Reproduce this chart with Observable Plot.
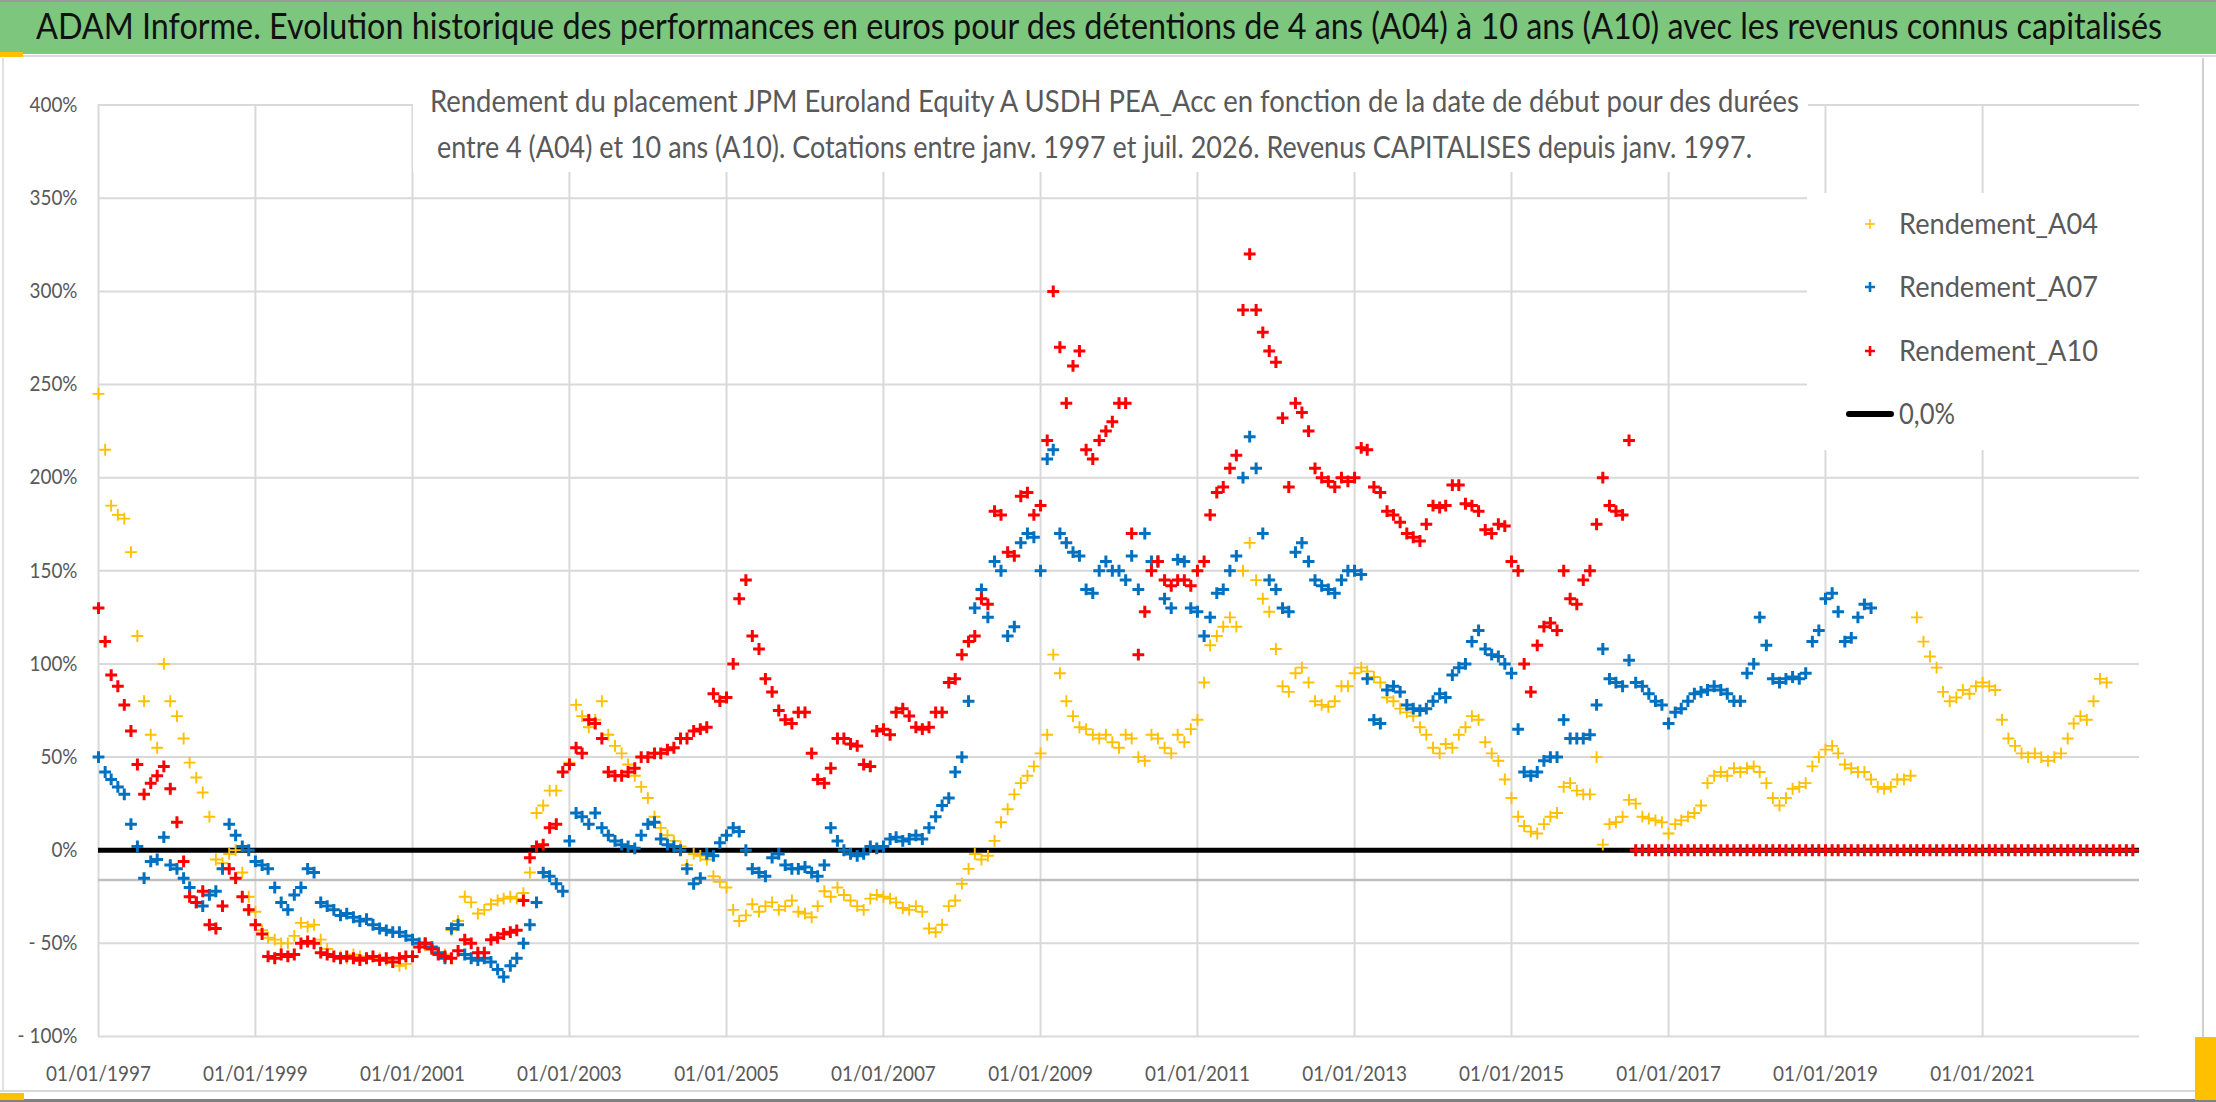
<!DOCTYPE html>
<html><head><meta charset="utf-8">
<script src="https://cdn.jsdelivr.net/npm/d3@7"></script>
<script src="https://cdn.jsdelivr.net/npm/@observablehq/plot@0.6"></script>
<style>
html,body{margin:0;padding:0;background:#fff;}
#page{position:relative;width:2216px;height:1102px;overflow:hidden;background:#fff;font-family:Lato,"Open Sans",sans-serif;}
.abs{position:absolute;}
.txt{position:absolute;white-space:nowrap;transform-origin:0 0;}
</style></head><body><div id="page"></div>
<script>
// ---------- DATA (monthly values, %, first month = Jan 1997) ----------
const startYear = 1997;
const endYear = 2023;
const a04 = [
 245,215,185,180,178,160,115,80,62,55,100,80,
 72,60,47,39,31,18,-5,-7,-2,0,-12,-25,
 -33,-43,-47,-48,-50,-50,-46,-39,-41,-40,-48,-53,
 -57,-57,-58,-56,-57,-58,-57,-58,-59,-60,-62,-61,
 -57,-52,-51,-52,-55,-56,-43,-38,-25,-28,-34,-32,
 -29,-27,-26,-25,-26,-23,-12,20,24,32,32,42,
 47,78,72,66,70,80,62,56,52,46,40,34,
 28,18,12,8,5,2,-8,-2,-3,-5,-14,-17,
 -20,-32,-38,-35,-29,-33,-30,-28,-32,-30,-27,-33,
 -34,-36,-30,-22,-25,-20,-24,-27,-30,-32,-26,-24,
 -25,-26,-28,-31,-32,-30,-33,-42,-44,-40,-30,-27,
 -18,-10,-2,-5,-3,5,15,22,30,36,40,45,
 52,62,105,95,80,72,66,65,62,60,62,58,
 55,62,60,50,48,62,60,55,52,62,58,65,
 70,90,110,115,120,125,120,150,165,145,135,128,
 108,88,85,95,98,90,80,78,77,80,88,88,
 95,98,96,93,90,82,80,76,74,72,66,62,
 55,52,57,55,62,66,72,70,58,52,48,38,
 28,18,13,10,9,14,18,20,34,36,32,30,
 30,50,3,14,15,18,27,25,18,17,16,15,
 9,14,16,18,20,24,36,40,42,40,44,42,
 44,45,42,36,28,24,28,33,34,36,45,50,
 54,56,52,46,44,42,42,38,34,33,34,38,
 38,40,125,112,104,98,85,80,82,86,84,88,
 90,88,86,70,60,56,52,50,52,50,48,50,
 52,60,68,72,70,80,92,90
];
const a07 = [
 50,42,38,34,30,14,2,-15,-6,-5,7,-8,
 -10,-15,-20,-28,-30,-24,-22,-10,14,8,2,0,
 -6,-8,-10,-20,-28,-32,-24,-20,-10,-12,-28,-30,
 -32,-35,-34,-36,-38,-37,-40,-42,-43,-44,-44,-46,
 -48,-50,-50,-52,-55,-58,-42,-40,-56,-58,-59,-58,
 -60,-64,-68,-62,-58,-50,-40,-28,-12,-14,-18,-22,
 5,20,18,14,20,12,8,5,3,2,1,8,
 14,15,6,3,2,0,-10,-18,-15,-2,-3,4,
 8,12,10,0,-10,-12,-14,-4,-2,-8,-10,-10,
 -9,-12,-14,-8,12,5,0,-2,-3,-2,2,1,
 2,6,7,5,6,8,6,12,18,24,28,42,
 50,80,130,140,125,155,150,115,120,165,170,168,
 150,210,215,170,165,160,158,140,138,150,155,150,
 150,145,158,140,170,155,155,135,130,156,155,130,
 128,115,125,138,140,150,158,200,222,205,170,145,
 140,130,128,160,165,155,145,142,140,138,145,150,
 150,148,92,70,68,86,88,85,78,76,75,76,
 80,84,82,94,98,100,112,118,108,105,104,100,
 95,65,42,40,42,48,50,50,70,60,60,60,
 62,78,108,92,90,88,102,90,88,84,80,78,
 68,74,76,80,84,85,86,88,86,84,80,80,
 95,100,125,110,92,90,92,93,92,95,112,118,
 135,138,128,112,114,125,132,130
];
const a10 = [
 130,112,94,88,78,64,46,30,36,40,45,33,
 15,-6,-25,-28,-22,-40,-42,-30,-10,-15,-25,-32,
 -40,-45,-57,-58,-56,-57,-56,-50,-49,-50,-55,-56,
 -57,-58,-57,-58,-59,-58,-57,-59,-58,-60,-58,-57,
 -57,-52,-50,-53,-56,-57,-58,-54,-48,-50,-55,-55,
 -48,-47,-45,-44,-43,-27,-4,2,3,12,14,42,
 46,55,52,70,68,60,42,40,40,42,44,50,
 50,52,52,54,55,60,60,64,65,66,84,80,
 82,100,135,145,115,108,92,85,75,70,68,74,
 74,52,38,36,44,60,60,57,56,46,45,64,
 65,62,74,76,72,66,65,66,74,74,90,92,
 105,112,115,135,132,182,180,160,158,190,192,180,
 185,220,300,270,240,260,268,215,210,220,225,230,
 240,240,170,105,128,150,155,145,142,145,145,142,
 150,155,180,192,195,205,212,290,320,290,278,268,
 262,232,195,240,235,225,205,200,198,195,200,198,
 200,216,215,195,192,182,180,176,170,168,166,175,
 185,184,185,196,196,186,185,182,172,170,175,174,
 155,150,100,85,110,120,122,118,150,135,132,145,
 150,175,200,185,182,180,220,
 0,0,0,0,0,
 0,0,0,0,0,0,0,0,0,0,0,0,
 0,0,0,0,0,0,0,0,0,0,0,0,
 0,0,0,0,0,0,0,0,0,0,0,0,
 0,0,0,0,0,0,0,0,0,0,0,0,
 0,0,0,0,0,0,0,0,0,0,0,0,
 0,0,0,0,0,0,0,0,0,0,0,0
];
const zeroLine = [0];
const axisCross = [-16];
const xTickYears = [1997,1999,2001,2003,2005,2007,2009,2011,2013,2015,2017,2019,2021];
const yTicks = [-100,-50,0,50,100,150,200,250,300,350,400];
const seriesNames = ["Rendement_A04","Rendement_A07","Rendement_A10"];
const seriesColors = ["#FFC000","#0070C0","#FF0000"];
const zeroName = "0,0%";
const titleText = "ADAM Informe. Evolution historique des performances en euros pour des détentions de 4 ans (A04) à 10 ans (A10) avec les revenus connus capitalisés";
const subtitle1 = "Rendement du placement JPM Euroland Equity A USDH PEA_Acc en fonction de la date de début pour des durées";
const subtitle2 = "entre 4 (A04) et 10 ans (A10). Cotations entre janv. 1997 et juil. 2026. Revenus CAPITALISES depuis janv. 1997.";

// ---------- build rows ----------
const toRows = arr => arr.map((v, i) => ({date: new Date(Date.UTC(startYear, i, 1)), value: v}));
const rows = [a04, a07, a10].map(toRows);
const xTickDates = xTickYears.map(y => new Date(Date.UTC(y, 0, 1)));
const fmtPct = v => v < 0 ? "- " + Math.abs(v) + "%" : v + "%";

const page = document.getElementById("page");

const svg = Plot.plot({
  width: 2216, height: 1102,
  marginLeft: 98, marginRight: 77, marginTop: 104.6, marginBottom: 66,
  style: {fontFamily: "Lato, 'Open Sans', sans-serif", fontSize: "21px", color: "#595959", background: "transparent", overflow: "visible"},
  x: {type: "utc", domain: [new Date(Date.UTC(startYear,0,1)), new Date(Date.UTC(endYear,0,1))],
      ticks: xTickDates, tickFormat: d => "01/01/" + d.getUTCFullYear(), tickSize: 0, tickPadding: 30, label: null},
  y: {domain: [-100, 400], ticks: yTicks, tickFormat: fmtPct, tickSize: 0, tickPadding: 21, label: null},
  marks: [
    Plot.ruleY(yTicks, {stroke: "#d9d9d9", strokeWidth: 2}),
    Plot.ruleX(xTickDates, {stroke: "#d9d9d9", strokeWidth: 2}),
    Plot.ruleY(axisCross, {stroke: "#bfbfbf", strokeWidth: 2.5}),
    Plot.ruleY(zeroLine, {stroke: "#000", strokeWidth: 5}),
    Plot.dot(rows[0], {x: "date", y: "value", symbol: "plus", r: 3.9, fill: "none", stroke: seriesColors[0], strokeWidth: 1.9}),
    Plot.dot(rows[1], {x: "date", y: "value", symbol: "plus", r: 3.9, fill: "none", stroke: seriesColors[1], strokeWidth: 3}),
    Plot.dot(rows[2], {x: "date", y: "value", symbol: "plus", r: 3.9, fill: "none", stroke: seriesColors[2], strokeWidth: 3})
  ]
});
svg.style.position = "absolute";
svg.style.left = "0px";
svg.style.top = "0px";
page.append(svg);
svg.querySelectorAll("text").forEach(t => {
  const L = t.getComputedTextLength();
  if (L > 0) { t.setAttribute("textLength", (L * 0.9).toFixed(1)); t.setAttribute("lengthAdjust", "spacingAndGlyphs"); }
});

// ---------- overlays ----------
function box(l, t, w, h, bg, extra = "") {
  const d = document.createElement("div");
  d.className = "abs";
  d.style.cssText = `left:${l}px;top:${t}px;width:${w}px;height:${h}px;background:${bg};${extra}`;
  page.append(d);
  return d;
}
function text(str, l, baseline, fs, color, target, weight = 400) {
  const d = document.createElement("div");
  d.className = "txt";
  d.textContent = str;
  d.style.cssText = `left:${l}px;top:${baseline - 0.987 * fs}px;font-size:${fs}px;line-height:${1.2 * fs}px;color:${color};font-weight:${weight};`;
  page.append(d);
  const w = d.getBoundingClientRect().width;
  if (target && w > 0) d.style.transform = `scaleX(${target / w})`;
  return d;
}

// title bar
box(0, 0, 2216, 54, "#7DC67E", "border-top:2px solid #9a9a9a;box-sizing:border-box;");
box(0, 55, 2216, 2, "#d9d9d9");
box(0, 52, 23, 5, "#FFC000");
text(titleText, 36, 40, 36, "#111", 2126);

// frame artifacts
box(2, 58, 2, 1034, "#e0e0e0");
box(2202, 58, 2, 980, "#d0d0d0");
box(0, 1090, 2204, 2, "#d9d9d9");
box(0, 1099, 2216, 3, "#808080");
box(0, 1093, 24, 7, "#FFC000");
box(2195, 1037, 21, 63, "#FFC000");

// subtitle
box(413, 58, 1395, 114, "#fff");
text(subtitle1, 430, 113, 31, "#595959", 1369);
text(subtitle2, 437, 159, 31, "#595959", 1315);

// legend
box(1807, 193, 332, 257, "#fff");
const legY = [224, 287, 351];
const legSW = [1.5, 2.6, 2.6];
seriesNames.forEach((name, i) => {
  const m = document.createElement("div");
  m.className = "abs";
  m.style.cssText = `left:${1870 - 10}px;top:${legY[i] - 10}px;width:20px;height:20px;`;
  m.innerHTML = `<svg width="20" height="20"><path d="M5,10H15M10,5V15" stroke="${seriesColors[i]}" stroke-width="${legSW[i]}" fill="none"/></svg>`;
  page.append(m);
  text(name, 1899, legY[i] + 10.4, 29, "#595959", 199);
});
box(1846, 411, 48, 6, "#000", "border-radius:3px;");
text(zeroName, 1899, 414 + 10.4, 29, "#595959", 56);
</script></body></html>
